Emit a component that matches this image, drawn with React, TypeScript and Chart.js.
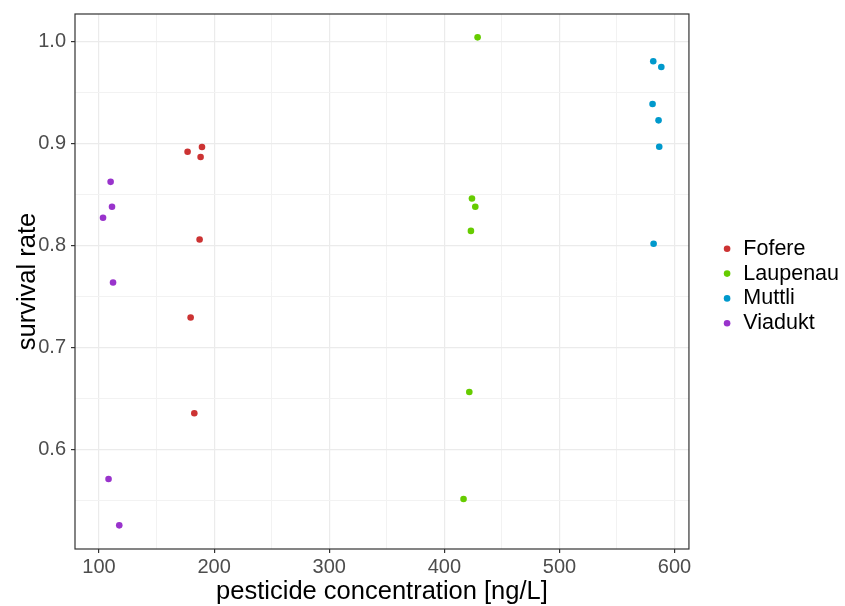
import React, { useEffect, useRef } from "react";
import { Chart, registerables } from "chart.js";

Chart.register(...registerables);

const FONT = "'Liberation Sans', Arial, Helvetica, sans-serif";

const seriesNames = ["Fofere", "Laupenau", "Muttli", "Viadukt"];
const seriesColors = ["#cc3333", "#66cc00", "#0099cc", "#9933cc"];

const fofereX = [176.96, 189.47, 188.26, 187.4, 179.6, 182.8];
const fofereY = [0.8918, 0.8964, 0.8866, 0.8058, 0.7292, 0.6353];

const laupenauX = [428.9, 424.0, 426.9, 423.1, 421.7, 416.7];
const laupenauY = [1.004, 0.846, 0.8378, 0.8142, 0.6562, 0.5512];

const muttliX = [581.5, 588.5, 580.9, 586.1, 586.7, 581.8];
const muttliY = [0.9805, 0.9749, 0.9386, 0.9226, 0.8967, 0.8015];

const viaduktX = [110.1, 111.3, 103.5, 112.2, 108.3, 117.6];
const viaduktY = [0.8623, 0.8378, 0.827, 0.7636, 0.5709, 0.5254];

const seriesX = [fofereX, laupenauX, muttliX, viaduktX];
const seriesY = [fofereY, laupenauY, muttliY, viaduktY];

const xGridValues = [100, 150, 200, 250, 300, 350, 400, 450, 500, 550, 600];
const xTickLabels = [100, 200, 300, 400, 500, 600];
const yGridValues = [0.55, 0.6, 0.65, 0.7, 0.75, 0.8, 0.85, 0.9, 0.95, 1.0];
const yTickLabels = [0.6, 0.7, 0.8, 0.9, 1.0];

const xTitle = "pesticide concentration [ng/L]";
const yTitle = "survival rate";

const isIn = (arr: number[], v: number) => arr.some((a) => Math.abs(a - v) < 1e-6);

const panelBorder = {
  id: "panelBorder",
  afterDatasetsDraw(chart: any) {
    const { ctx, chartArea } = chart;
    const { left, top, right, bottom } = chartArea;
    ctx.save();
    ctx.strokeStyle = "#333333";
    ctx.lineWidth = 1.2;
    ctx.strokeRect(left, top, right - left, bottom - top);
    ctx.restore();
  },
};

export default function App() {
  const ref = useRef<HTMLCanvasElement | null>(null);

  useEffect(() => {
    if (!ref.current) return;
    const datasets = seriesNames.map((name, i) => ({
      label: name,
      data: seriesX[i].map((x, j) => ({ x, y: seriesY[i][j] })),
      backgroundColor: seriesColors[i],
      borderColor: seriesColors[i],
      borderWidth: 0,
      pointRadius: 3.3,
      pointHoverRadius: 3.3,
      pointStyle: "circle",
      showLine: false,
    }));

    const chart = new Chart(ref.current, {
      type: "scatter",
      data: { datasets },
      plugins: [panelBorder],
      options: {
        animation: false,
        responsive: false,
        devicePixelRatio: 1,
        layout: { padding: { top: 14, left: 0, right: 0, bottom: 0 } },
        plugins: {
          tooltip: { enabled: false },
          legend: {
            position: "right",
            align: "start",
            labels: {
              usePointStyle: true,
              pointStyle: "circle",
              boxWidth: 11,
              boxHeight: 4.67,
              padding: 3.3,
              color: "#000000",
              font: { family: FONT, size: 21.5 },
            },
            title: {
              display: true,
              text: "",
              font: { family: FONT, size: 10, lineHeight: 1.2 },
              padding: { top: 208.75, bottom: 0 },
            },
          },
        },
        scales: {
          x: {
            type: "linear",
            position: "bottom",
            min: 79.15,
            max: 612.5,
            afterBuildTicks: (s: any) => {
              s.ticks = xGridValues.map((v) => ({ value: v }));
            },
            afterFit: (s: any) => {
              s.height = 57;
              s.paddingLeft = 0;
              s.paddingRight = 0;
            },
            ticks: {
              autoSkip: false,
              maxRotation: 0,
              minRotation: 0,
              padding: 2,
              color: "#4d4d4d",
              font: { family: FONT, size: 20 },
              callback: (v: any) => (isIn(xTickLabels, Number(v)) ? String(v) : ""),
            },
            grid: {
              color: (c: any) => (isIn(xTickLabels, c.tick?.value) ? "#ebebeb" : "#f2f2f2"),
              lineWidth: (c: any) => (isIn(xTickLabels, c.tick?.value) ? 1.2 : 1),
              drawTicks: true,
              tickLength: 4,
              tickWidth: 1.2,
              tickColor: (c: any) => (isIn(xTickLabels, c.tick?.value) ? "#333333" : "rgba(0,0,0,0)"),
            },
            border: { display: false },
            title: {
              display: true,
              text: xTitle,
              color: "#000000",
              font: { family: FONT, size: 25.5, lineHeight: 1.1 },
              padding: { top: 0, bottom: 0 },
            },
          },
          y: {
            type: "linear",
            position: "left",
            min: 0.5022,
            max: 1.0269,
            afterBuildTicks: (s: any) => {
              s.ticks = yGridValues.map((v) => ({ value: v }));
            },
            afterFit: (s: any) => {
              s.width = 75;
              s.paddingTop = 0;
              s.paddingBottom = 0;
            },
            ticks: {
              autoSkip: false,
              padding: 5,
              color: "#4d4d4d",
              font: { family: FONT, size: 20 },
              callback: (v: any) => (isIn(yTickLabels, Number(v)) ? Number(v).toFixed(1) : ""),
            },
            grid: {
              color: (c: any) => (isIn(yTickLabels, c.tick?.value) ? "#ebebeb" : "#f2f2f2"),
              lineWidth: (c: any) => (isIn(yTickLabels, c.tick?.value) ? 1.2 : 1),
              drawTicks: true,
              tickLength: 4,
              tickWidth: 1.2,
              tickColor: (c: any) => (isIn(yTickLabels, c.tick?.value) ? "#333333" : "rgba(0,0,0,0)"),
            },
            border: { display: false },
            title: {
              display: true,
              text: yTitle,
              color: "#000000",
              font: { family: FONT, size: 25.5, lineHeight: 1.2 },
              padding: { top: 13, bottom: 0 },
            },
          },
          gap: {
            type: "linear",
            axis: "y",
            position: "right",
            display: true,
            afterFit: (s: any) => {
              s.width = 29.35;
              s.paddingTop = 0;
              s.paddingBottom = 0;
            },
            grid: { display: false, drawTicks: false },
            ticks: { display: false },
            border: { display: false },
          },
        },
      } as any,
    });
    return () => chart.destroy();
  }, []);

  return (
    <div
      style={{
        position: "fixed",
        left: 0,
        top: 0,
        width: 845,
        height: 606,
        overflow: "hidden",
        background: "#ffffff",
      }}
    >
      <canvas ref={ref} width={849} height={606} style={{ display: "block" }} />
    </div>
  );
}
